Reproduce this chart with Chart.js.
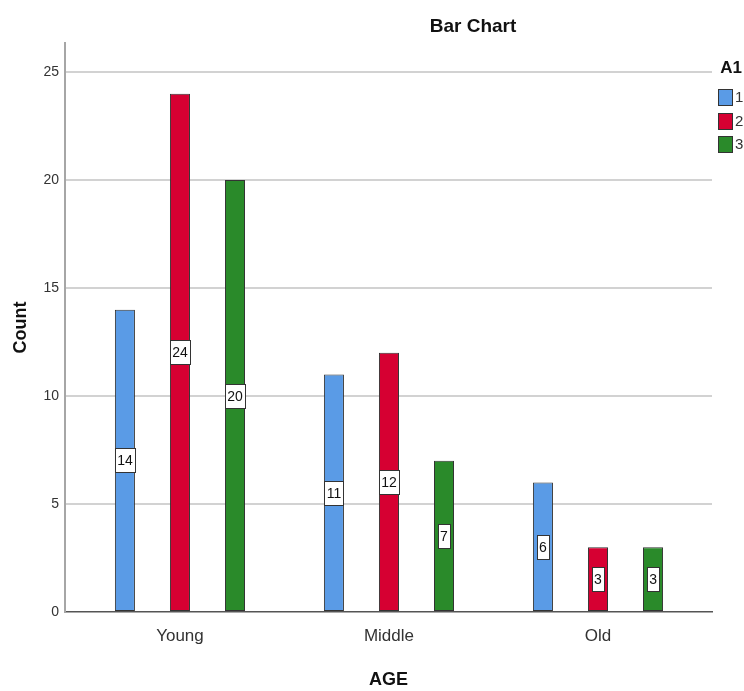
<!DOCTYPE html>
<html>
<head>
<meta charset="utf-8">
<title>Bar Chart</title>
<script src="https://cdn.jsdelivr.net/npm/chart.js@4.4.1/dist/chart.umd.min.js"></script>
<style>
    html, body { margin: 0; padding: 0; background: #fff; }
</style>
</head>
<body>
<canvas id="barChart" width="744" height="691"></canvas>
<script>
/*  Data  */
const ageGroups = ["Young", "Middle", "Old"];
const seriesNames = ["1", "2", "3"];
const counts1 = [14, 11, 6];
const counts2 = [24, 12, 3];
const counts3 = [20, 7, 3];
const yTicks = [0, 5, 10, 15, 20, 25];
const seriesColors = ["#5a9be6", "#d60032", "#2a8a2a"];

const FONT = "'Liberation Sans Narrow', 'Arial Narrow', 'Liberation Sans', Arial, sans-serif";
const allCounts = [counts1, counts2, counts3];

/*  value boxes in the middle of each bar  */
const barValueLabels = {
    id: "barValueLabels",
    afterDatasetsDraw(chart) {
        const ctx = chart.ctx;
        ctx.save();
        ctx.font = "14px " + FONT;
        ctx.textAlign = "center";
        ctx.textBaseline = "middle";
        chart.data.datasets.forEach((ds, i) => {
            chart.getDatasetMeta(i).data.forEach((bar, j) => {
                const text = String(ds.data[j].y);
                const w = Math.round(ctx.measureText(text).width + 4);
                const h = 24;
                const x = Math.round(bar.x - w / 2) + 0.5;
                const y = Math.round((bar.y + bar.base) / 2 - h / 2) + 0.5;
                ctx.fillStyle = "#fff";
                ctx.fillRect(x, y, w, h);
                ctx.strokeStyle = "#333";
                ctx.lineWidth = 1;
                ctx.strokeRect(x, y, w, h);
                ctx.fillStyle = "#111";
                ctx.fillText(text, bar.x, y + h / 2 + 0.5);
            });
        });
        ctx.restore();
    }
};

/*  SPSS style legend at the right edge  */
const sideLegend = {
    id: "sideLegend",
    afterDraw(chart) {
        const ctx = chart.ctx;
        ctx.save();
        ctx.textBaseline = "middle";
        ctx.fillStyle = "#111";
        ctx.font = "bold 17px " + FONT;
        ctx.textAlign = "right";
        ctx.fillText("A1", 742, 68);
        ctx.font = "15px " + FONT;
        ctx.textAlign = "left";
        chart.data.datasets.forEach((ds, i) => {
            const top = 89 + i * 23.5;
            ctx.fillStyle = ds.backgroundColor;
            ctx.fillRect(718.5, Math.round(top) + 0.5, 14, 16);
            ctx.strokeStyle = "#333";
            ctx.lineWidth = 1;
            ctx.strokeRect(718.5, Math.round(top) + 0.5, 14, 16);
            ctx.fillStyle = "#333";
            ctx.fillText(ds.label, 735, top + 9);
        });
        ctx.restore();
    }
};

/*  title is not centred on the canvas in the original  */
const titleShift = {
    id: "titleShift",
    afterLayout(chart) {
        const t = chart.titleBlock;
        if (t) {
            t.left = 946 - t.right;
            t.width = t.right - t.left;
        }
    }
};

const datasets = seriesNames.map((name, i) => ({
    label: name,
    data: allCounts[i].map((v, j) => ({ x: j, y: v })),
    backgroundColor: seriesColors[i],
    borderColor: "#333",
    borderWidth: 1,
    borderSkipped: false,
    categoryPercentage: 0.79,
    barPercentage: 0.364
}));

new Chart(document.getElementById("barChart"), {
    type: "bar",
    data: { datasets },
    plugins: [barValueLabels, sideLegend, titleShift],
    options: {
        responsive: false,
        animation: false,
        layout: { padding: { left: 0, right: 32, top: 0, bottom: 0 } },
        plugins: {
            legend: { display: false },
            tooltip: { enabled: false },
            title: {
                display: true,
                text: "Bar Chart",
                color: "#111",
                font: { family: FONT, size: 19, weight: "bold" },
                padding: { top: 15, bottom: 5.2 }
            }
        },
        scales: {
            x: {
                type: "linear",
                min: -0.55,
                max: 2.5455,
                offset: false,
                afterBuildTicks: s => { s.ticks = ageGroups.map((g, i) => ({ value: i })); },
                afterFit: s => { s.height = 79; },
                grid: { display: false },
                border: { display: true, color: "#555", width: 1.5 },
                ticks: {
                    autoSkip: false,
                    maxRotation: 0,
                    padding: 6,
                    color: "#333",
                    font: { family: FONT, size: 17 },
                    callback: v => ageGroups[v]
                },
                title: {
                    display: true,
                    text: "AGE",
                    color: "#111",
                    font: { family: FONT, size: 18, weight: "bold" },
                    padding: { top: 19, bottom: 0 }
                }
            },
            y: {
                min: 0,
                max: 26.35,
                afterBuildTicks: s => { s.ticks = yTicks.map(v => ({ value: v })); },
                afterFit: s => { s.width = 65; },
                grid: {
                    color: c => (c.tick && c.tick.value === 0) ? "rgba(0,0,0,0)" : "#d2d2d2",
                    lineWidth: 2,
                    drawTicks: false
                },
                border: { color: "#a6a6a6", width: 2 },
                ticks: {
                    padding: 6,
                    color: "#333",
                    font: { family: FONT, size: 14 }
                },
                title: {
                    display: true,
                    text: "Count",
                    color: "#111",
                    font: { family: FONT, size: 18, weight: "bold" },
                    padding: { top: 10.5, bottom: 0 }
                }
            }
        }
    }
});
</script>
</body>
</html>
